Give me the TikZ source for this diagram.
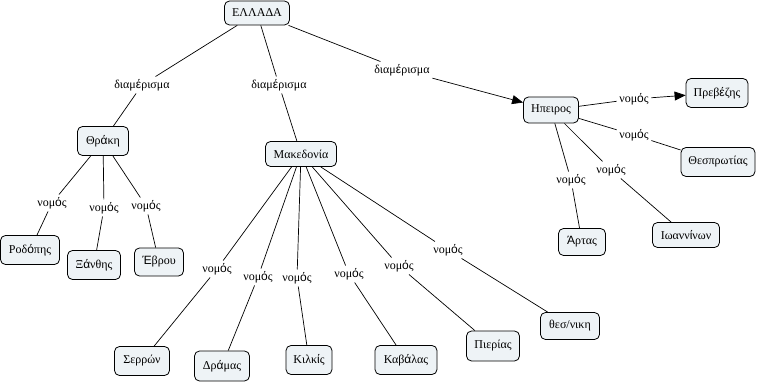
\documentclass[tikz,border=0pt]{standalone}
\usepackage{fontspec}
\setmainfont{Liberation Serif}
\newfontfamily\accfont{Liberation Sans}
\usetikzlibrary{arrows.meta}
\newcommand{\accch}[1]{{\accfont #1}}
\newcommand{\nomoslbl}{νομ\accch{ό}ς}
\newcommand{\diamlbl}{διαμ\accch{έ}ρισμα}
\definecolor{boxfill}{HTML}{EEF3F6}
\begin{document}
\begin{tikzpicture}[x=1pt,y=-1pt, font=\fontsize{12}{14}\selectfont,
  concept/.style={draw=black, line width=0.8pt, rounded corners=5pt, fill=boxfill, inner sep=0pt},
  link/.style={inner sep=2.5pt},
  conn/.style={line width=0.7pt},
  arr/.style={-{Triangle[length=11pt,width=9pt]}}]
\useasboundingbox (0,0) rectangle (758,382);

% concepts
\node[concept, minimum width=65pt, minimum height=24pt] (ellada) at (257,13) {ΕΛΛΑΔΑ};
\node[concept, minimum width=51pt, minimum height=29pt] (thraki) at (103,141) {Θρ\accch{ά}κη};
\node[concept, minimum width=71pt, minimum height=25pt] (maked) at (301,154) {Μακεδονία};
\node[concept, minimum width=55pt, minimum height=26pt] (ipeiros) at (551,110) {Ηπειρος};
\node[concept, minimum width=62pt, minimum height=29pt] (prevezis) at (717,93) {Πρεβ\accch{έ}ζης};
\node[concept, minimum width=74pt, minimum height=29pt] (thesprot) at (718,162) {Θεσπρωτίας};
\node[concept, minimum width=59pt, minimum height=29pt] (rodopis) at (30,250) {Ροδ\accch{ό}πης};
\node[concept, minimum width=53pt, minimum height=29pt] (xanthis) at (94,265) {Ξ\accch{ά}νθης};
\node[concept, minimum width=49pt, minimum height=28pt] (evrou) at (159,262) {\accch{Έ}βρου};
\node[concept, minimum width=55pt, minimum height=29pt] (serron) at (142,361) {Σερρών};
\node[concept, minimum width=55pt, minimum height=30pt] (dramas) at (222,366) {Δρ\accch{ά}μας};
\node[concept, minimum width=46pt, minimum height=29pt] (kilkis) at (309,360) {Κιλκ\accch{ί}ς};
\node[concept, minimum width=62pt, minimum height=29pt] (kavalas) at (406,360) {Καβ\accch{ά}λας};
\node[concept, minimum width=53pt, minimum height=30pt] (pierias) at (493,346) {Πιερίας};
\node[concept, minimum width=59pt, minimum height=27pt] (thess) at (570,326) {θεσ/νικη};
\node[concept, minimum width=47pt, minimum height=27pt] (artas) at (582,242) {\accch{Ά}ρτας};
\node[concept, minimum width=67pt, minimum height=25pt] (ioannina) at (686,235) {Ιωανν\accch{ί}νων};

% linking phrases
\node[link] (d1) at (142,85) {\diamlbl};
\node[link] (d2) at (279,85) {\diamlbl};
\node[link] (d3) at (402,70) {\diamlbl};
\node[link] (np) at (634,99) {\nomoslbl};
\node[link] (nt) at (634,135) {\nomoslbl};
\node[link] (ni) at (611,170) {\nomoslbl};
\node[link] (na) at (571,180) {\nomoslbl};
\node[link] (nr) at (52,203) {\nomoslbl};
\node[link] (nx) at (104,208) {\nomoslbl};
\node[link] (ne) at (146,206) {\nomoslbl};
\node[link] (ns) at (217,269) {\nomoslbl};
\node[link] (nd) at (258,277) {\nomoslbl};
\node[link] (nk) at (297,278) {\nomoslbl};
\node[link] (nkv) at (349,274) {\nomoslbl};
\node[link] (npi) at (399,266) {\nomoslbl};
\node[link] (nth) at (448,250) {\nomoslbl};

% connectors
\draw[conn] (ellada) -- (d1) -- (thraki);
\draw[conn] (ellada) -- (d2) -- (maked);
\draw[conn] (ellada) -- (d3);
\draw[conn,arr] (d3) -- (ipeiros);

\draw[conn] (ipeiros) -- (np);
\draw[conn,arr] (np) -- (prevezis);
\draw[conn] (ipeiros) -- (nt) -- (thesprot);
\draw[conn] (ipeiros) -- (ni) -- (ioannina);
\draw[conn] (ipeiros) -- (na) -- (artas);

\draw[conn] (thraki) -- (nr) -- (rodopis);
\draw[conn] (thraki) -- (nx) -- (xanthis);
\draw[conn] (thraki) -- (ne) -- (evrou);

\draw[conn] (maked) -- (ns) -- (serron);
\draw[conn] (maked) -- (nd) -- (dramas);
\draw[conn] (maked) -- (nk) -- (kilkis);
\draw[conn] (maked) -- (nkv) -- (kavalas);
\draw[conn] (maked) -- (npi) -- (pierias);
\draw[conn] (maked) -- (nth) -- (thess);
\end{tikzpicture}
\end{document}
